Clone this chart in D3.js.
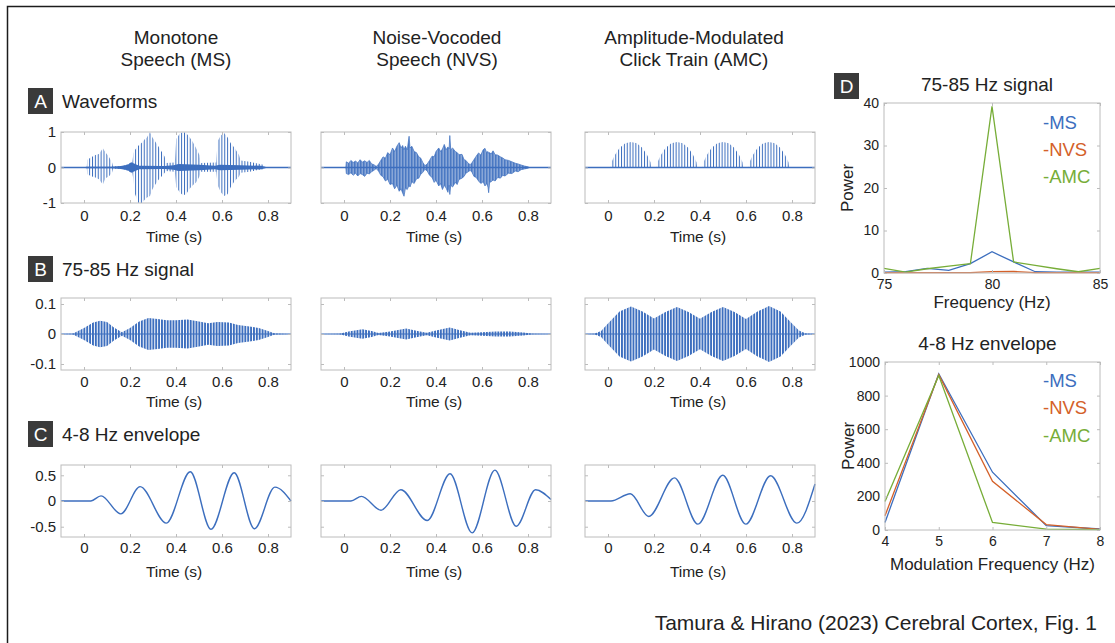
<!DOCTYPE html>
<html>
<head>
<meta charset="utf-8">
<script src="https://cdn.jsdelivr.net/npm/d3@7"></script>
<style>
body { margin: 0; background: #fff; }
svg { font-family: "Liberation Sans", Arial, Helvetica, sans-serif; }
</style>
</head>
<body>
<svg id="fig" width="1115" height="643"></svg>
<script>
// ---- data ----
var conditions = ["MS", "NVS", "AMC"];
var headers = [["Monotone", "Speech (MS)"], ["Noise-Vocoded", "Speech (NVS)"], ["Amplitude-Modulated", "Click Train (AMC)"]];
var timeDomain = [-0.1, 0.9];
var timeTicks = [0, 0.2, 0.4, 0.6, 0.8];
var pulseRate = 80; // Hz, pitch / click rate

// A: waveforms  [t, upper, lower]
var msWave = [
  [0.012, 0, 0], [0.014, 0.22, -0.19], [0.035, 0.3, -0.25], [0.05, 0.35, -0.28], [0.065, 0.38, -0.33],
  [0.082, 0.54, -0.48], [0.093, 0.43, -0.3], [0.108, 0.3, -0.25], [0.122, 0.14, -0.14], [0.126, 0.03, -0.03],
  [0.17, 0.04, -0.04], [0.19, 0.1, -0.1], [0.21, 0.14, -0.14], [0.215, 0.4, -0.35], [0.222, 0.5, -0.75],
  [0.237, 0.62, -1.0], [0.251, 0.7, -1.0], [0.265, 0.8, -0.9], [0.272, 0.83, -0.85], [0.287, 1.0, -0.8],
  [0.297, 0.85, -0.62], [0.308, 0.75, -0.5], [0.323, 0.6, -0.35], [0.337, 0.45, -0.25], [0.351, 0.3, -0.15],
  [0.356, 0.13, -0.1], [0.395, 0.14, -0.12], [0.401, 0.8, -0.55], [0.416, 0.95, -0.7], [0.43, 1.0, -0.78],
  [0.444, 0.97, -0.75], [0.459, 0.85, -0.6], [0.473, 0.72, -0.5], [0.487, 0.55, -0.42], [0.502, 0.35, -0.25],
  [0.507, 0.13, -0.12], [0.575, 0.14, -0.12], [0.581, 0.75, -0.5], [0.595, 0.9, -0.7], [0.609, 0.97, -0.8],
  [0.624, 0.85, -0.75], [0.638, 0.68, -0.55], [0.655, 0.55, -0.38], [0.674, 0.35, -0.25], [0.681, 0.2, -0.15],
  [0.72, 0.16, -0.12], [0.75, 0.12, -0.08], [0.78, 0.08, -0.05], [0.785, 0, 0]
];
// dense low-level part of MS  [t, amplitude]
var msNoise = [
  [0.0, 0], [0.01, 0.02], [0.12, 0.02], [0.16, 0.04], [0.19, 0.08], [0.205, 0.15], [0.215, 0.12], [0.24, 0.05],
  [0.35, 0.04], [0.39, 0.06], [0.41, 0.1], [0.5, 0.08], [0.57, 0.05], [0.59, 0.08], [0.68, 0.06], [0.77, 0.05], [0.8, 0]
];
var nvsWave = [
  [0.008, 0, 0], [0.01, 0.16, -0.17], [0.02, 0.12, -0.2], [0.03, 0.2, -0.15], [0.04, 0.14, -0.22], [0.05, 0.18, -0.16],
  [0.06, 0.13, -0.24], [0.07, 0.22, -0.17], [0.08, 0.15, -0.2], [0.09, 0.19, -0.25], [0.1, 0.14, -0.16], [0.11, 0.2, -0.18],
  [0.12, 0.1, -0.12], [0.13, 0.08, -0.08], [0.14, 0.03, -0.03], [0.15, 0.09, -0.1], [0.16, 0.2, -0.22], [0.17, 0.3, -0.26],
  [0.18, 0.26, -0.38], [0.19, 0.42, -0.33], [0.2, 0.36, -0.48], [0.211, 0.55, -0.45], [0.22, 0.45, -0.6], [0.23, 0.6, -0.5],
  [0.24, 0.7, -0.67], [0.248, 0.55, -0.6], [0.255, 0.62, -0.72], [0.261, 0.5, -0.81], [0.267, 0.6, -0.58], [0.275, 0.5, -0.62],
  [0.283, 0.88, -0.5], [0.287, 0.55, -0.55], [0.295, 0.6, -0.4], [0.305, 0.45, -0.45], [0.315, 0.42, -0.32], [0.325, 0.3, -0.3],
  [0.333, 0.27, -0.2], [0.342, 0.15, -0.14], [0.352, 0.05, -0.05], [0.362, 0.1, -0.1], [0.372, 0.2, -0.22], [0.383, 0.32, -0.28],
  [0.392, 0.3, -0.42], [0.4, 0.45, -0.36], [0.412, 0.55, -0.52], [0.42, 0.45, -0.45], [0.428, 0.52, -0.62], [0.436, 0.65, -0.5],
  [0.444, 0.5, -0.58], [0.452, 0.58, -0.7], [0.457, 0.52, -0.5], [0.46, 0.9, -0.76], [0.464, 0.5, -0.5], [0.472, 0.55, -0.55],
  [0.484, 0.45, -0.42], [0.492, 0.42, -0.48], [0.5, 0.36, -0.34], [0.513, 0.37, -0.3], [0.522, 0.22, -0.25], [0.53, 0.2, -0.16],
  [0.54, 0.12, -0.12], [0.549, 0.08, -0.08], [0.557, 0.14, -0.14], [0.565, 0.22, -0.25], [0.575, 0.32, -0.28], [0.585, 0.41, -0.38],
  [0.595, 0.35, -0.45], [0.605, 0.5, -0.4], [0.613, 0.54, -0.52], [0.62, 0.42, -0.45], [0.626, 0.45, -0.55], [0.629, 0.4, -0.71],
  [0.633, 0.42, -0.42], [0.64, 0.38, -0.4], [0.648, 0.47, -0.35], [0.657, 0.36, -0.38], [0.668, 0.35, -0.28], [0.68, 0.3, -0.3],
  [0.69, 0.27, -0.22], [0.7, 0.22, -0.24], [0.715, 0.2, -0.16], [0.73, 0.16, -0.17], [0.745, 0.12, -0.1], [0.757, 0.1, -0.12],
  [0.77, 0.07, -0.06], [0.785, 0.04, -0.04], [0.8, 0.02, -0.02], [0.805, 0, 0]
];
// AMC clicks, positive only  [t, height]
var amcWave = [
  [0.012, 0], [0.015, 0.15], [0.03, 0.35], [0.05, 0.55], [0.075, 0.68], [0.1, 0.72], [0.125, 0.68], [0.15, 0.55], [0.17, 0.35], [0.185, 0.15], [0.188, 0],
  [0.212, 0], [0.215, 0.15], [0.23, 0.35], [0.25, 0.55], [0.275, 0.68], [0.3, 0.72], [0.325, 0.68], [0.35, 0.55], [0.37, 0.35], [0.385, 0.15], [0.388, 0],
  [0.412, 0], [0.415, 0.15], [0.43, 0.35], [0.45, 0.55], [0.475, 0.68], [0.5, 0.72], [0.525, 0.68], [0.55, 0.55], [0.57, 0.35], [0.585, 0.15], [0.588, 0],
  [0.612, 0], [0.615, 0.15], [0.63, 0.35], [0.65, 0.55], [0.675, 0.68], [0.7, 0.72], [0.725, 0.68], [0.75, 0.55], [0.77, 0.35], [0.785, 0.15], [0.788, 0]
];

// B: 75-85 Hz band, envelope of the 80 Hz carrier  [t, amplitude]
var msBand = [
  [-0.1, 0], [-0.05, 0.001], [0.0, 0.02], [0.04, 0.038], [0.07, 0.044], [0.1, 0.04], [0.13, 0.022], [0.165, 0.006],
  [0.2, 0.02], [0.24, 0.042], [0.28, 0.053], [0.32, 0.05], [0.36, 0.046], [0.4, 0.046], [0.45, 0.048], [0.5, 0.042],
  [0.54, 0.036], [0.58, 0.04], [0.63, 0.038], [0.67, 0.03], [0.72, 0.025], [0.76, 0.02], [0.8, 0.01], [0.83, 0.002], [0.9, 0]
];
var nvsBand = [
  [-0.1, 0], [-0.02, 0.001], [0.02, 0.008], [0.08, 0.016], [0.12, 0.01], [0.15, 0.003], [0.2, 0.008], [0.27, 0.018],
  [0.32, 0.01], [0.36, 0.004], [0.4, 0.012], [0.46, 0.022], [0.5, 0.013], [0.55, 0.004], [0.6, 0.006], [0.66, 0.008],
  [0.72, 0.008], [0.78, 0.005], [0.82, 0.001], [0.9, 0]
];
var amcBand = [
  [-0.1, 0], [-0.06, 0.001], [-0.03, 0.01], [0.0, 0.035], [0.05, 0.075], [0.1, 0.092], [0.15, 0.075], [0.2, 0.052],
  [0.25, 0.073], [0.3, 0.09], [0.35, 0.073], [0.4, 0.051], [0.45, 0.073], [0.5, 0.09], [0.55, 0.073], [0.6, 0.05],
  [0.65, 0.075], [0.7, 0.093], [0.75, 0.075], [0.8, 0.035], [0.83, 0.012], [0.86, 0.002], [0.9, 0]
];

// C: 4-8 Hz envelope, turning points  [t, value]
var msEnv = [[-0.1, 0], [0.03, 0], [0.074, 0.1], [0.16, -0.25], [0.244, 0.28], [0.358, -0.43], [0.462, 0.57], [0.552, -0.55], [0.653, 0.55], [0.741, -0.54], [0.83, 0.27], [0.9, 0.0]];
var nvsEnv = [[-0.1, 0], [0.03, 0], [0.076, 0.09], [0.161, -0.18], [0.247, 0.22], [0.362, -0.38], [0.461, 0.53], [0.557, -0.62], [0.656, 0.6], [0.749, -0.49], [0.833, 0.22], [0.9, 0.03]];
var amcEnv = [[-0.1, 0], [0.013, 0], [0.097, 0.14], [0.177, -0.3], [0.289, 0.45], [0.391, -0.45], [0.499, 0.5], [0.599, -0.45], [0.707, 0.49], [0.821, -0.43], [0.9, 0.33]];

// D: spectra
var freqs = [75, 76, 77, 78, 79, 80, 81, 82, 83, 84, 85];
var msPow = [0.2, 0.3, 1.1, 0.6, 2.2, 5.0, 2.6, 0.3, 0.2, 0.2, 0.2];
var nvsPow = [0.1, 0.1, 0.1, 0.1, 0.1, 0.3, 0.35, 0.1, 0.1, 0.1, 0.1];
var amcPow = [1.1, 0.2, 1.0, 1.6, 2.2, 39.2, 2.6, 1.8, 1.0, 0.3, 1.1];
var modFreqs = [4, 5, 6, 7, 8];
var msMod = [45, 930, 344, 26, 6];
var nvsMod = [85, 925, 290, 32, 4];
var amcMod = [170, 920, 45, 5, 2];

// ---- style ----
var blue = "#3c6ebe", orange = "#d4612a", green = "#77ad38";
var lineColors = [blue, orange, green];
var axisGray = "#bcbcbc", textCol = "#222";

var svg = d3.select("#fig");
svg.append("rect").attr("width", 1115).attr("height", 643).attr("fill", "#fff");
svg.append("rect").attr("x", 7.5).attr("y", 6.5).attr("width", 1200).attr("height", 700)
   .attr("fill", "none").attr("stroke", "#1c1c1c").attr("stroke-width", 1.5);

var defs = svg.append("defs");

var colX = [61, 321, 585], plotW = 230;
var rows = {
  A: { y: 132, h: 71, dom: [-1, 1], ticks: [-1, 0, 1], pad: 7, titleDy: 39 },
  B: { y: 298, h: 72, dom: [-0.12, 0.12], ticks: [-0.1, 0, 0.1], pad: 6, titleDy: 37 },
  C: { y: 465, h: 72, dom: [-0.7, 0.7], ticks: [-0.5, 0, 0.5], pad: 5, titleDy: 40 }
};

function styleAxis(sel, labels, size) {
  sel.select(".domain").remove();
  sel.selectAll(".tick line").attr("stroke", axisGray);
  if (labels) sel.selectAll(".tick text").attr("fill", textCol).style("font-size", size);
  else sel.selectAll(".tick text").remove();
  sel.attr("font-family", null).attr("font-size", null);
}

function makeAxes(x, y, xTicks, yTicks, pad, showY, size) {
  var g = svg.append("g");
  var x0 = x.range()[0], x1 = x.range()[1], y0 = y.range()[1], y1 = y.range()[0];
  g.append("g").attr("transform", "translate(0," + y1 + ")")
   .call(d3.axisBottom(x).tickValues(xTicks).tickSize(-3).tickPadding(pad).tickFormat(d => String(d)))
   .call(s => styleAxis(s, true, size));
  g.append("g").attr("transform", "translate(0," + y0 + ")")
   .call(d3.axisTop(x).tickValues(xTicks).tickSize(-3))
   .call(s => styleAxis(s, false, size));
  g.append("g").attr("transform", "translate(" + x0 + ",0)")
   .call(d3.axisLeft(y).tickValues(yTicks).tickSize(-3).tickPadding(5).tickFormat(d => String(d)))
   .call(s => styleAxis(s, showY, size));
  g.append("g").attr("transform", "translate(" + x1 + ",0)")
   .call(d3.axisRight(y).tickValues(yTicks).tickSize(-3))
   .call(s => styleAxis(s, false, size));
  g.append("rect").attr("x", x0).attr("y", y0).attr("width", x1 - x0).attr("height", y1 - y0)
   .attr("fill", "none").attr("stroke", axisGray).attr("stroke-width", 1);
  return g;
}

function stripePattern(id, period, barW, col) {
  var p = defs.append("pattern").attr("id", id).attr("patternUnits", "userSpaceOnUse")
              .attr("width", period).attr("height", 20);
  p.append("rect").attr("width", barW).attr("height", 20).attr("fill", col);
}

// ---- panels A-C ----
var bandData = [msBand, nvsBand, amcBand];
var envData = [msEnv, nvsEnv, amcEnv];

colX.forEach(function (cx, ci) {
  var x = d3.scaleLinear().domain(timeDomain).range([cx, cx + plotW]);
  var period = x(1 / pulseRate) - x(0);
  if (ci === 0) {
    stripePattern("pulseThin", period, 1.0, blue);
    stripePattern("pulseBand", period, 1.9, blue);
    stripePattern("noiseTex", 1.5, 1.15, blue);
  }

  ["A", "B", "C"].forEach(function (rk) {
    var r = rows[rk];
    var y = d3.scaleLinear().domain(r.dom).range([r.y + r.h, r.y]);
    var g = svg.append("g");

    if (rk === "A") {
      if (ci === 1) {
        g.append("path").datum(nvsWave)
         .attr("d", d3.area().x(d => x(d[0])).y0(d => y(d[2])).y1(d => y(d[1])))
         .attr("fill", "url(#noiseTex)").attr("stroke", blue).attr("stroke-width", 0.7);
      } else if (ci === 0) {
        g.append("path").datum(msWave)
         .attr("d", d3.area().x(d => x(d[0])).y0(d => y(d[2])).y1(d => y(d[1])))
         .attr("fill", "url(#pulseThin)");
        g.append("path").datum(msNoise)
         .attr("d", d3.area().x(d => x(d[0])).y0(d => y(-d[1])).y1(d => y(d[1])))
         .attr("fill", blue);
      } else {
        g.append("path").datum(amcWave)
         .attr("d", d3.area().x(d => x(d[0])).y0(y(0)).y1(d => y(d[1])))
         .attr("fill", "url(#pulseThin)");
      }
      g.append("line").attr("x1", x(timeDomain[0])).attr("x2", x(timeDomain[1]))
       .attr("y1", y(0)).attr("y2", y(0)).attr("stroke", blue).attr("stroke-width", 1.3);
    }
    if (rk === "B") {
      g.append("path").datum(bandData[ci])
       .attr("d", d3.area().x(d => x(d[0])).y0(d => y(-d[1])).y1(d => y(d[1])))
       .attr("fill", "url(#pulseBand)");
      g.append("line").attr("x1", x(timeDomain[0])).attr("x2", x(timeDomain[1]))
       .attr("y1", y(0)).attr("y2", y(0)).attr("stroke", blue).attr("stroke-width", 1.2);
    }
    if (rk === "C") {
      g.append("path").datum(envData[ci])
       .attr("d", d3.line().x(d => x(d[0])).y(d => y(d[1])).curve(d3.curveMonotoneX))
       .attr("fill", "none").attr("stroke", blue).attr("stroke-width", 1.4);
    }

    makeAxes(x, y, timeTicks, r.ticks, r.pad, ci === 0, "15px");
    svg.append("text").attr("x", cx + plotW / 2 - 2).attr("y", r.y + r.h + r.titleDy)
       .attr("text-anchor", "middle").attr("fill", textCol).style("font-size", "15.5px").text("Time (s)");
  });
});

// column headers
var headerX = [176, 437, 694];
headers.forEach(function (h, i) {
  svg.append("text").attr("x", headerX[i]).attr("y", 44).attr("text-anchor", "middle")
     .attr("fill", textCol).style("font-size", "19px").text(h[0]);
  svg.append("text").attr("x", headerX[i]).attr("y", 66).attr("text-anchor", "middle")
     .attr("fill", textCol).style("font-size", "19px").text(h[1]);
});

// panel letters
function panelTag(letter, x, y, title) {
  svg.append("rect").attr("x", x).attr("y", y).attr("width", 25).attr("height", 26).attr("fill", "#3a3a3a");
  svg.append("text").attr("x", x + 12.5).attr("y", y + 20).attr("text-anchor", "middle")
     .attr("fill", "#fff").style("font-size", "19px").text(letter);
  if (title) {
    svg.append("text").attr("x", x + 34).attr("y", y + 20).attr("fill", textCol)
       .style("font-size", "19px").text(title);
  }
}
panelTag("A", 28, 88, "Waveforms");
panelTag("B", 28, 256, "75-85 Hz signal");
panelTag("C", 28, 421, "4-8 Hz envelope");
panelTag("D", 834, 73, null);

// ---- panel D ----
function spectrum(box, xs, series, xDom, xTicks, yDom, yTicks, title, xTitle, legendY) {
  var x = d3.scaleLinear().domain(xDom).range([box.x, box.x + box.w]);
  var y = d3.scaleLinear().domain(yDom).range([box.y + box.h, box.y]);
  var line = d3.line().x((d, i) => x(xs[i])).y(d => y(d));
  series.forEach(function (s, i) {
    svg.append("path").datum(s).attr("d", line).attr("fill", "none")
       .attr("stroke", lineColors[i]).attr("stroke-width", 1.3);
  });
  makeAxes(x, y, xTicks, yTicks, 6, true, "14px");
  svg.append("text").attr("x", box.x + box.w / 2 - 5).attr("y", box.y - 12).attr("text-anchor", "middle")
     .attr("fill", textCol).style("font-size", "19px").text(title);
  svg.append("text").attr("x", box.x + box.w / 2).attr("y", box.y + box.h + box.titleDy).attr("text-anchor", "middle")
     .attr("fill", textCol).style("font-size", "17px").text(xTitle);
  svg.append("text").attr("transform", "translate(" + (box.x - 31) + "," + (box.y + box.h / 2) + ") rotate(-90)")
     .attr("text-anchor", "middle").attr("fill", textCol).style("font-size", "17px").text("Power");
  conditions.forEach(function (c, i) {
    svg.append("text").attr("x", box.x + box.w - 57).attr("y", legendY[i]).attr("dy", "0.35em")
       .attr("fill", lineColors[i]).style("font-size", "18.5px").text("-" + c);
  });
}

spectrum({ x: 884, y: 103, w: 216, h: 170, titleDy: 35 }, freqs, [msPow, nvsPow, amcPow],
         [75, 85], [75, 80, 85], [0, 40], [0, 10, 20, 30, 40], "75-85 Hz signal", "Frequency (Hz)", [123, 150, 177]);
spectrum({ x: 885, y: 362, w: 215, h: 168, titleDy: 40 }, modFreqs, [msMod, nvsMod, amcMod],
         [4, 8], [4, 5, 6, 7, 8], [0, 1000], [0, 200, 400, 600, 800, 1000], "4-8 Hz envelope", "Modulation Frequency (Hz)", [381, 408, 436]);

svg.append("text").attr("x", 1097).attr("y", 630).attr("text-anchor", "end")
   .attr("fill", textCol).style("font-size", "21px").text("Tamura & Hirano (2023) Cerebral Cortex, Fig. 1");
</script>
</body>
</html>
